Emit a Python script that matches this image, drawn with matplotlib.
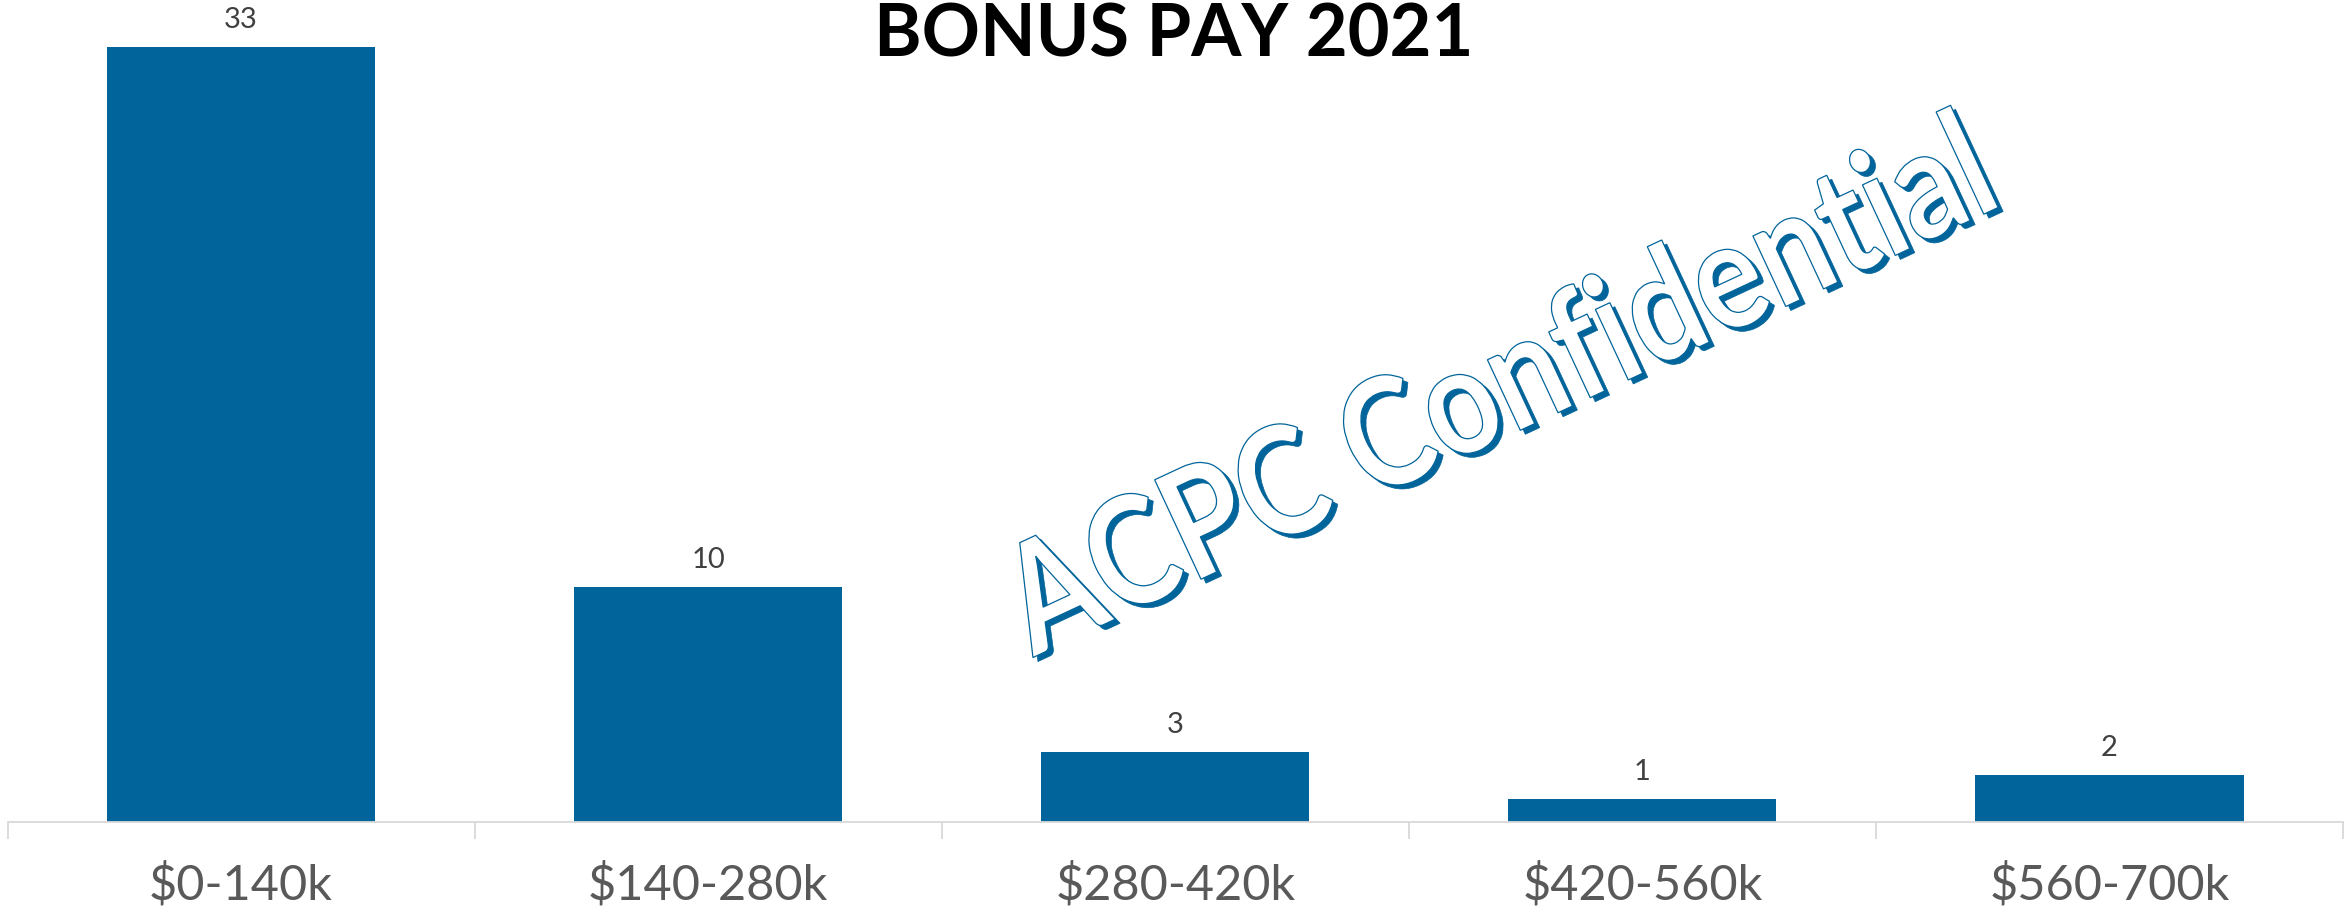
import numpy as np
import matplotlib
matplotlib.use("Agg")
import matplotlib.pyplot as plt
from matplotlib.textpath import TextPath
from matplotlib.patches import PathPatch
from matplotlib.font_manager import FontProperties
from matplotlib.transforms import Affine2D

plt.rcParams["font.family"] = ["Lato", "DejaVu Sans"]

categories = ["$0-140k", "$140-280k", "$280-420k", "$420-560k", "$560-700k"]
counts = [33, 10, 3, 1, 2]
title = "BONUS PAY 2021"
watermark = "ACPC Confidential"

bar_color = "#01649a"
W, H = 2348, 909

fig = plt.figure(figsize=(W / 100, H / 100), dpi=100)
ax = fig.add_axes([7.5 / W, 87 / H, (2343 - 7.5) / W, 822 / H])

x = np.arange(len(categories))
bars = ax.bar(x, counts, width=0.574, color=bar_color, zorder=2)

ax.set_xlim(-0.5, len(categories) - 0.5)
ax.set_ylim(0, 35)
for s in ["top", "right", "left"]:
    ax.spines[s].set_visible(False)
ax.spines["bottom"].set_color("#d9d9d9")
ax.spines["bottom"].set_linewidth(1.3)
ax.set_yticks([])

ax.set_xticks(x)
ax.set_xticklabels(categories, fontsize=35, color="#595959")
ax.tick_params(axis="x", which="major", length=0, pad=29)
ax.set_xticks(np.arange(-0.5, len(categories)), minor=True)
ax.tick_params(axis="x", which="minor", length=12, width=1.3, color="#d9d9d9")

for xi, v in zip(x, counts):
    ax.annotate(str(v), (xi, v), xytext=(0, 10), textcoords="offset points",
                ha="center", va="bottom", fontsize=21, color="#404040")

fig.text(0.5, 0.997, title, ha="center", va="top", fontsize=52,
         fontweight="bold", color="black")

# watermark: rotated outline text with a blue drop shadow
fp = FontProperties(family="Lato", weight="bold")
tp = TextPath((0, 0), watermark, size=1, prop=fp)
bb = tp.get_extents()
scale = 1065 / bb.width
cx, cy = 1492, H - 382
base = (Affine2D()
        .translate(-bb.x0 - bb.width / 2, -bb.y0 - bb.height / 2)
        .scale(scale, scale * 1.18)
        .rotate_deg(25))
to_fig = Affine2D().scale(1 / 100) + fig.dpi_scale_trans

shadow = PathPatch(tp, facecolor=bar_color, edgecolor=bar_color, lw=0.5,
                   transform=base + Affine2D().translate(cx + 5, cy - 4) + to_fig)
front = PathPatch(tp, facecolor="white", edgecolor=bar_color, lw=0.9,
                  transform=base + Affine2D().translate(cx, cy) + to_fig)
fig.patches.extend([shadow, front])

fig.savefig("out.png", dpi=100)
